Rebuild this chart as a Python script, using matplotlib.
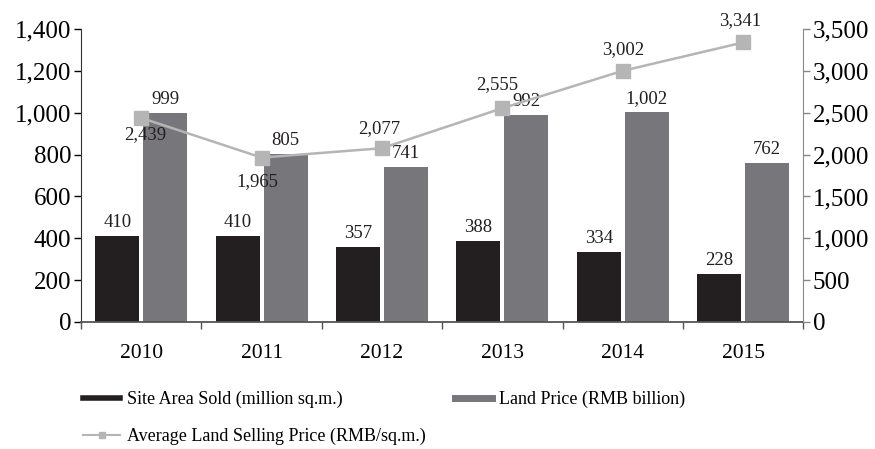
import matplotlib
matplotlib.use('Agg')
import matplotlib.pyplot as plt
from matplotlib.lines import Line2D
from matplotlib.ticker import FuncFormatter
import numpy as np

years = ['2010', '2011', '2012', '2013', '2014', '2015']
site_area = [410, 410, 357, 388, 334, 228]
land_price = [999, 805, 741, 992, 1002, 762]
avg_price = [2439, 1965, 2077, 2555, 3002, 3341]
# label offsets (points) for the line labels
avg_offsets = [(3, -12), (-3, -17), (-2, 14), (-4, 17), (0, 15), (-2, 16)]

black = '#231f20'
grey = '#77777b'
light = '#b5b5b5'

plt.rcParams['font.family'] = ['Liberation Serif', 'DejaVu Serif']

fig = plt.figure(figsize=(8.75, 4.49), dpi=100)
ax = fig.add_axes([0.0926, 0.283, 0.8254, 0.652])
ax2 = ax.twinx()

x = np.arange(len(years))
w = 0.366
gap = 0.033
b1 = ax.bar(x - w / 2 - gap / 2, site_area, w, color=black, zorder=2)
b2 = ax.bar(x + w / 2 + gap / 2, land_price, w, color=grey, zorder=2)

for rect, v in zip(b1, site_area):
    ax.annotate(f'{v:,}', (rect.get_x() + rect.get_width() / 2, v),
                xytext=(0, 3.5), textcoords='offset points',
                ha='center', va='bottom', fontsize=13.5, color=black)
for rect, v in zip(b2, land_price):
    ax.annotate(f'{v:,}', (rect.get_x() + rect.get_width() / 2, v),
                xytext=(0, 3.5), textcoords='offset points',
                ha='center', va='bottom', fontsize=13.5, color=black)

ax2.plot(x, avg_price, color=light, lw=1.8, marker='s', ms=9.5,
         mfc=light, mec=light, zorder=5)
for xi, v, off in zip(x, avg_price, avg_offsets):
    ax2.annotate(f'{v:,}', (xi, v), xytext=off, textcoords='offset points',
                 ha='center', va='center', fontsize=13.5, color=black)

ax.set_xlim(-0.5, 5.5)
ax.set_ylim(0, 1400)
ax2.set_ylim(0, 3500)
ax.set_yticks(range(0, 1401, 200))
ax2.set_yticks(range(0, 3501, 500))
fmt = FuncFormatter(lambda v, p: f'{int(v):,}')
ax.yaxis.set_major_formatter(fmt)
ax2.yaxis.set_major_formatter(fmt)

ax.set_xticks(x)
ax.set_xticklabels(years, fontsize=15.5)
ax.set_xticks(np.arange(-0.5, 6, 1), minor=True)
ax.tick_params(axis='x', which='major', length=0, pad=16)
ax.tick_params(axis='x', which='minor', length=5, color='#555555', width=1)
ax.tick_params(axis='y', labelsize=18, length=5, width=1, pad=2)
ax2.tick_params(axis='y', labelsize=18, length=5, width=1, pad=2, color='#888888')

for a in (ax, ax2):
    a.spines['top'].set_visible(False)
ax.spines['right'].set_visible(False)
ax2.spines['left'].set_visible(False)
ax2.spines['bottom'].set_visible(False)
ax.spines['left'].set_color('#333333')
ax.spines['bottom'].set_color('#555555')
ax.spines['bottom'].set_linewidth(1.3)
ax2.spines['right'].set_color('#888888')

handles = [
    Line2D([], [], color=black, lw=4),
    Line2D([], [], color=light, lw=1.5, marker='s', ms=5, mfc=light, mec=light),
    Line2D([], [], color=grey, lw=5),
]
labels = ['Site Area Sold (million sq.m.)',
          'Average Land Selling Price (RMB/sq.m.)',
          'Land Price (RMB billion)']
fig.legend(handles, labels, ncol=2, loc='upper left',
           bbox_to_anchor=(0.095, 0.13), frameon=False, fontsize=13,
           handlelength=2.05, handletextpad=0.39, columnspacing=1.6,
           labelspacing=1.1, borderaxespad=0, borderpad=0)

fig.savefig('out.png', dpi=100)
